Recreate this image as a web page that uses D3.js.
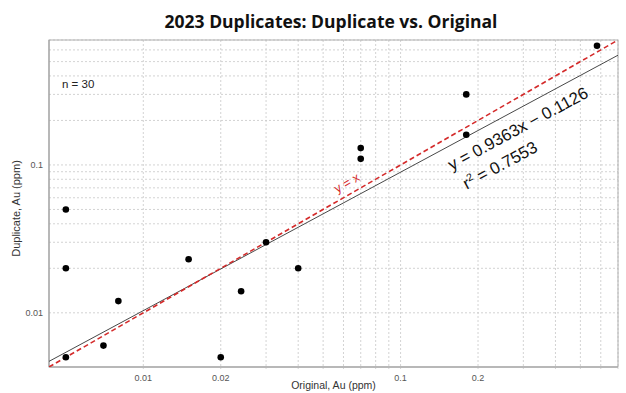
<!DOCTYPE html>
<html>
<head>
<meta charset="utf-8">
<script src="https://cdn.jsdelivr.net/npm/d3@7"></script>
<style>
  body { margin: 0; background: #fff; }
  svg { display: block; font-family: "Liberation Sans", Arial, sans-serif; }
</style>
</head>
<body>
<div id="chart"></div>
<script>
// duplicate vs original, log-log
var original  = [0.005, 0.005, 0.005, 0.007, 0.008, 0.015, 0.02, 0.024, 0.03, 0.04, 0.07, 0.07, 0.18, 0.18, 0.58]
var duplicate = [0.05, 0.02, 0.005, 0.006, 0.012, 0.023, 0.005, 0.014, 0.03, 0.02, 0.13, 0.11, 0.3, 0.16, 0.64]
var axisDomain = [0.0043, 0.7]
var xTickLabels = [0.01, 0.02, 0.1, 0.2]
var yTickLabels = [0.01, 0.1]
var slope = 0.9363, intercept = -0.1126, r2 = 0.7553
var nSamples = 30

var data = original.map(function (d, i) { return {x: d, y: duplicate[i]} })

var dimensions = {
    margin: {top: 40, bottom: 26, right: 8, left: 49},
    width: 626,
    height: 393
}
var w = dimensions.width - dimensions.margin.left - dimensions.margin.right
var h = dimensions.height - dimensions.margin.top - dimensions.margin.bottom

var root = d3.select("#chart").append("svg")
    .attr("width", dimensions.width)
    .attr("height", dimensions.height)

var svg = root.append("g")
    .attr("transform", "translate(" + dimensions.margin.left + "," + dimensions.margin.top + ")")

var x = d3.scaleLog().domain(axisDomain).range([0, w])
var y = d3.scaleLog().domain(axisDomain).range([h, 0])

// gridlines only from 0.01 up
var gridVals = x.ticks().filter(function (d) { return d >= 0.00999 && d <= axisDomain[1] })

svg.append("g").selectAll("line")
    .data(gridVals).enter().append("line")
    .attr("x1", function (d) { return x(d) }).attr("x2", function (d) { return x(d) })
    .attr("y1", 0).attr("y2", h + 2)
    .attr("stroke", "#c8c8c8").attr("stroke-width", 0.8).attr("stroke-dasharray", "2,2")

svg.append("g").selectAll("line")
    .data(gridVals).enter().append("line")
    .attr("y1", function (d) { return y(d) }).attr("y2", function (d) { return y(d) })
    .attr("x1", 0).attr("x2", w)
    .attr("stroke", "#c8c8c8").attr("stroke-width", 0.8).attr("stroke-dasharray", "2,2")

// frame
svg.append("rect")
    .attr("width", w).attr("height", h)
    .attr("fill", "none").attr("stroke", "#b0b0b0").attr("stroke-width", 1)
svg.append("line").attr("x1", 0).attr("x2", 0).attr("y1", 0).attr("y2", h)
    .attr("stroke", "#999")
svg.append("line").attr("x1", 0).attr("x2", w).attr("y1", h).attr("y2", h)
    .attr("stroke", "#999")

// tick labels
svg.append("g").selectAll("text")
    .data(xTickLabels).enter().append("text")
    .attr("x", function (d) { return x(d) })
    .attr("y", h + 14)
    .attr("text-anchor", "middle")
    .attr("font-size", 9).attr("fill", "#555")
    .text(function (d) { return d })

svg.append("g").selectAll("text")
    .data(yTickLabels).enter().append("text")
    .attr("x", -6)
    .attr("y", function (d) { return y(d) + 3 })
    .attr("text-anchor", "end")
    .attr("font-size", 9).attr("fill", "#555")
    .text(function (d) { return d })

// clip for lines
svg.append("clipPath").attr("id", "clip")
    .append("rect").attr("width", w).attr("height", h)

// regression (log space)
var fit = function (v) { return Math.pow(10, slope * Math.log10(v) + intercept) }
svg.append("line")
    .attr("clip-path", "url(#clip)")
    .attr("x1", x(axisDomain[0])).attr("y1", y(fit(axisDomain[0])))
    .attr("x2", x(axisDomain[1])).attr("y2", y(fit(axisDomain[1])))
    .attr("stroke", "#333").attr("stroke-width", 0.9)

// y = x
svg.append("line")
    .attr("clip-path", "url(#clip)")
    .attr("x1", x(axisDomain[0])).attr("y1", y(axisDomain[0]))
    .attr("x2", x(axisDomain[1])).attr("y2", y(axisDomain[1]))
    .attr("stroke", "#d42a2a").attr("stroke-width", 1.6).attr("stroke-dasharray", "5,3")

// points
svg.selectAll("circle")
    .data(data).enter().append("circle")
    .attr("cx", function (d) { return x(d.x) })
    .attr("cy", function (d) { return y(d.y) })
    .attr("r", 3.3)
    .attr("fill", "#000")

// annotations
var angleOf = function (f) {
    var a = 0.01, b = 0.5
    return Math.atan2(y(f(b)) - y(f(a)), x(b) - x(a)) * 180 / Math.PI
}
var idAngle = angleOf(function (v) { return v })
var fitAngle = angleOf(fit)

var lx = x(0.063), ly = y(0.063) - 8
svg.append("text")
    .attr("transform", "translate(" + lx + "," + ly + ") rotate(" + idAngle + ")")
    .attr("text-anchor", "middle")
    .attr("font-size", 12.5).attr("fill", "#d42a2a")
    .text("y = x")

var ex = x(0.158), ey = y(fit(0.158)) + 26
svg.append("text")
    .attr("transform", "translate(" + ex + "," + ey + ") rotate(" + fitAngle + ")")
    .attr("font-size", 16.8).attr("fill", "#111")
    .text("y = 0.9363x \u2212 0.1126")

svg.append("text")
    .attr("transform", "translate(" + (ex + 15) + "," + (ey + 19) + ") rotate(" + fitAngle + ")")
    .attr("font-size", 16.8).attr("fill", "#111")
    .html("r<tspan baseline-shift='super' font-size='10.5'>2</tspan> = " + r2)

svg.append("text")
    .attr("x", 13).attr("y", 48)
    .attr("font-size", 11.5).attr("fill", "#222")
    .text("n = " + nSamples)

// titles
root.append("text")
    .attr("x", 331).attr("y", 28)
    .attr("text-anchor", "middle")
    .attr("font-size", 17.5).attr("font-weight", "bold").attr("fill", "#111")
    .style("font-family", "'Open Sans', sans-serif")
    .text("2023 Duplicates: Duplicate vs. Original")

root.append("text")
    .attr("x", dimensions.margin.left + w / 2).attr("y", 389)
    .attr("text-anchor", "middle")
    .attr("font-size", 10.5).attr("fill", "#333")
    .text("Original, Au (ppm)")

root.append("text")
    .attr("transform", "translate(20," + (dimensions.margin.top + h / 2 + 5) + ") rotate(-90)")
    .attr("text-anchor", "middle")
    .attr("font-size", 11).attr("fill", "#333")
    .text("Duplicate, Au (ppm)")
</script>
</body>
</html>
